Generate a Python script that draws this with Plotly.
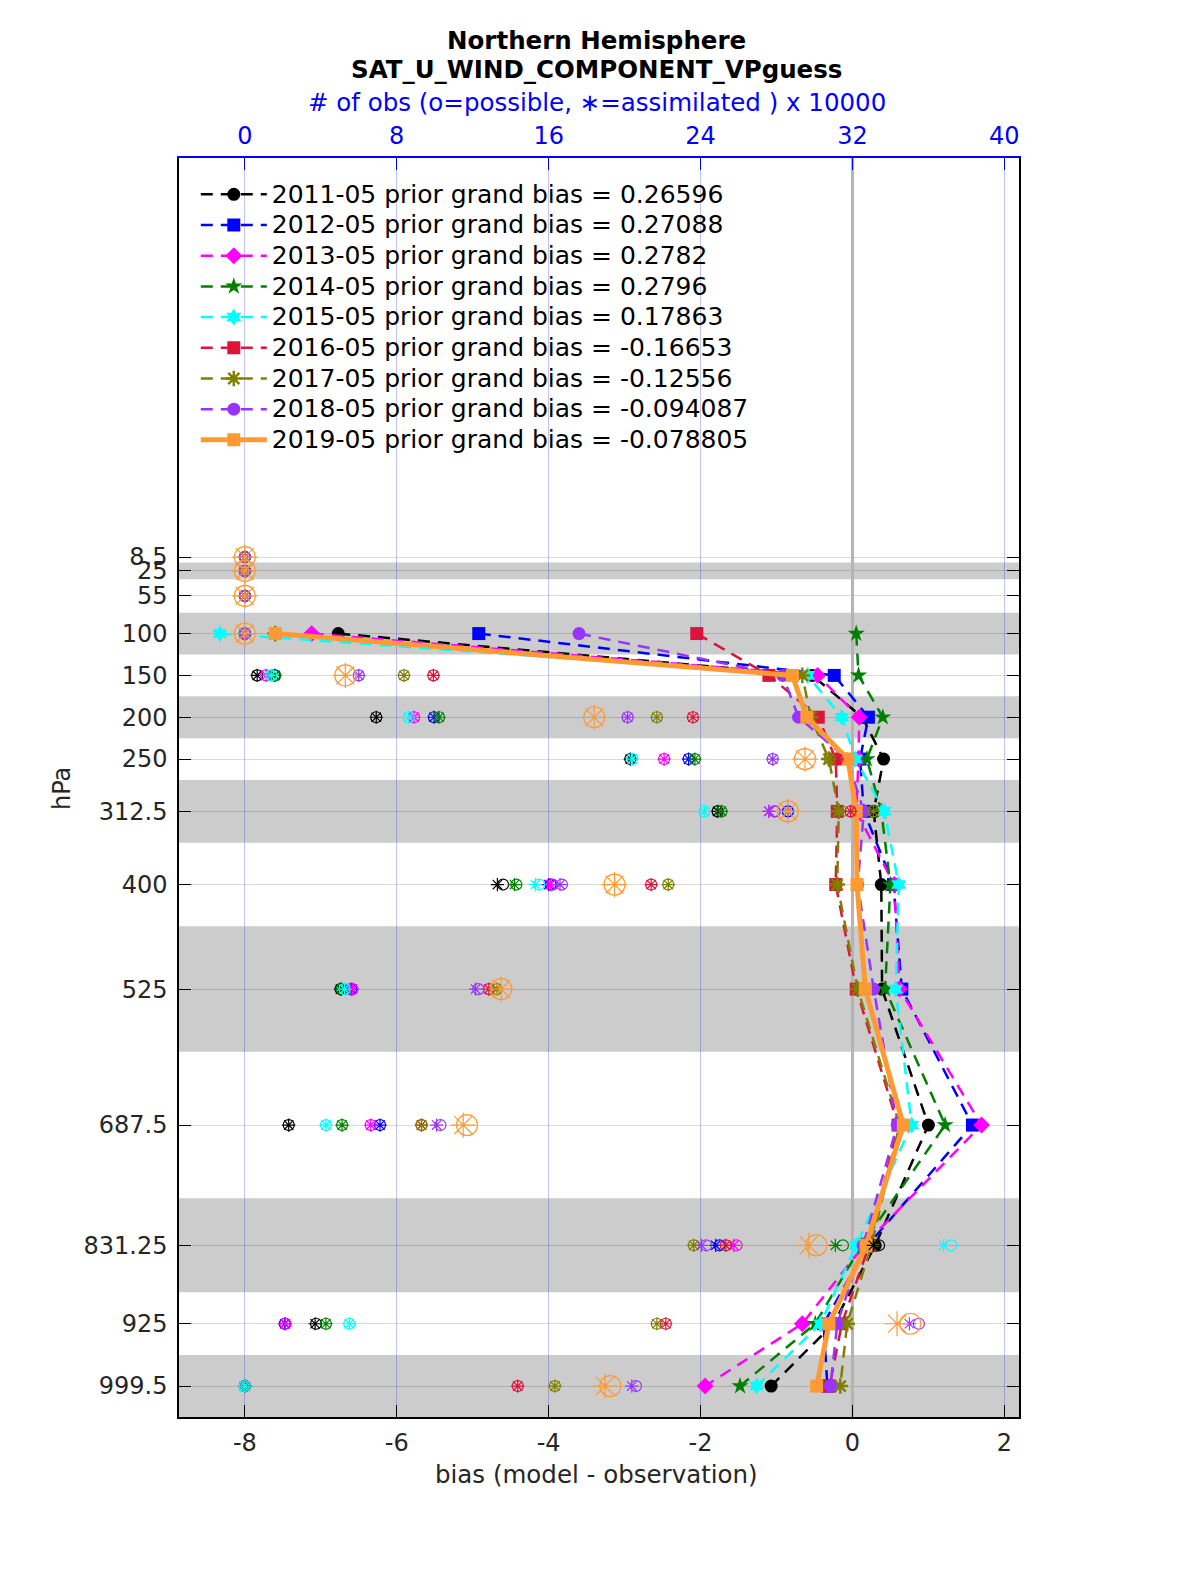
import plotly.graph_objects as go

# ---------------- data ----------------
levels = [8.5, 25, 55, 100, 150, 200, 250, 312.5, 400, 525, 687.5, 831.25, 925, 999.5]
level_labels = ["8.5", "25", "55", "100", "150", "200", "250", "312.5", "400",
                "525", "687.5", "831.25", "925", "999.5"]
layer_edges = [2, 15, 35, 75, 125, 175, 225, 275, 350, 450, 600, 775, 887.5, 962.5, 1036.5]

years = ["2011-05", "2012-05", "2013-05", "2014-05", "2015-05",
         "2016-05", "2017-05", "2018-05", "2019-05"]
grand_bias = ["0.26596", "0.27088", "0.2782", "0.2796", "0.17863",
              "-0.16653", "-0.12556", "-0.094087", "-0.078805"]

N = None
bias_2011 = [N, N, N, -6.77, -0.53, 0.13, 0.41, 0.28, 0.38, 0.39, 1.00, 0.30, -0.25, -1.07]
bias_2012 = [N, N, N, -4.92, -0.24, 0.21, 0.10, 0.15, 0.54, 0.65, 1.58, 0.20, -0.38, -0.33]
bias_2013 = [N, N, N, -7.12, -0.46, 0.09, 0.08, 0.05, 0.55, 0.62, 1.70, 0.15, -0.66, -1.94]
bias_2014 = [N, N, N, 0.05, 0.08, 0.40, 0.19, 0.38, 0.50, 0.43, 1.22, 0.12, -0.49, -1.48]
bias_2015 = [N, N, N, -8.33, -0.59, -0.14, 0.04, 0.42, 0.61, 0.57, 0.78, 0.05, -0.42, -1.26]
bias_2016 = [N, N, N, -2.05, -1.10, -0.45, -0.22, -0.20, -0.22, 0.05, 0.60, 0.22, -0.14, -0.30]
bias_2017 = [N, N, N, -7.60, -0.66, -0.55, -0.31, -0.18, -0.20, 0.07, 0.62, 0.25, -0.07, -0.16]
bias_2018 = [N, N, N, -3.60, -0.92, -0.71, -0.07, 0.15, 0.07, 0.28, 0.59, 0.14, -0.20, -0.29]
bias_2019 = [N, N, N, -7.60, -0.79, -0.60, -0.06, 0.05, 0.06, 0.17, 0.67, 0.18, -0.31, -0.47]

# number of observations (x 10000): possible / assimilated
poss_2011 = [0, 0, 0, 0, 0.65, 6.92, 20.3, 24.9, 13.6, 5.04, 2.31, 33.4, 3.75, 0]
assim_2011 = [0, 0, 0, 0, 0.65, 6.92, 20.3, 24.9, 13.3, 5.04, 2.31, 33.1, 3.70, 0]
poss_2012 = [0, 0, 0, 0, 1.56, 9.96, 23.37, 28.6, 16.1, 5.6, 7.12, 25.0, 2.10, 0]
assim_2012 = [0, 0, 0, 0, 1.56, 9.96, 23.37, 28.6, 16.0, 5.6, 7.12, 24.8, 2.10, 0]
poss_2013 = [0, 0, 0, 0, 1.12, 8.91, 22.08, 27.9, 16.2, 5.67, 6.63, 25.9, 2.14, 0]
assim_2013 = [0, 0, 0, 0, 1.12, 8.91, 22.08, 27.6, 16.1, 5.67, 6.63, 25.75, 2.14, 0]
poss_2014 = [0, 0, 0, 0, 1.60, 10.23, 23.7, 25.1, 14.3, 5.1, 5.12, 31.5, 4.27, 0]
assim_2014 = [0, 0, 0, 0, 1.60, 10.23, 23.7, 25.1, 14.2, 5.1, 5.12, 31.1, 4.27, 0]
poss_2015 = [0, 0, 0, 0, 1.39, 8.63, 20.4, 24.2, 15.5, 5.25, 4.27, 37.2, 5.5, 0]
assim_2015 = [0, 0, 0, 0, 1.39, 8.63, 20.4, 24.2, 15.3, 5.25, 4.27, 36.8, 5.5, 0]
poss_2016 = [0, 0, 0, 0, 9.93, 23.6, 31.2, 31.9, 21.4, 12.85, 9.3, 25.33, 22.17, 14.37]
assim_2016 = [0, 0, 0, 0, 9.93, 23.6, 31.2, 31.9, 21.4, 12.85, 9.3, 25.33, 22.17, 14.37]
poss_2017 = [0, 0, 0, 0, 8.38, 21.7, 30.8, 33.1, 22.3, 13.27, 9.31, 23.64, 21.7, 16.33]
assim_2017 = [0, 0, 0, 0, 8.38, 21.7, 30.8, 33.1, 22.3, 13.27, 9.31, 23.64, 21.7, 16.33]
poss_2018 = [0, 0, 0, 0, 6.0, 20.16, 27.8, 27.9, 16.7, 12.3, 10.3, 24.3, 35.5, 20.6]
assim_2018 = [0, 0, 0, 0, 6.0, 20.16, 27.8, 27.6, 16.6, 12.15, 10.1, 24.05, 35.0, 20.38]
poss_2019 = [0, 0, 0, 0, 5.29, 18.4, 29.5, 28.6, 19.47, 13.5, 11.7, 30.1, 35.05, 19.25]
assim_2019 = [0, 0, 0, 0, 5.29, 18.4, 29.5, 28.6, 19.47, 13.5, 11.5, 29.7, 34.35, 18.97]

bias_all = [bias_2011, bias_2012, bias_2013, bias_2014, bias_2015,
            bias_2016, bias_2017, bias_2018, bias_2019]
poss_all = [poss_2011, poss_2012, poss_2013, poss_2014, poss_2015,
            poss_2016, poss_2017, poss_2018, poss_2019]
assim_all = [assim_2011, assim_2012, assim_2013, assim_2014, assim_2015,
             assim_2016, assim_2017, assim_2018, assim_2019]

# ---------------- styles ----------------
colors = ["#000000", "#0000FF", "#FF00FF", "#008000", "#00FFFF",
          "#DC143C", "#808000", "#9933FF", "#FF9933"]
symbols = ["circle", "square", "diamond", "star", "hexagram",
           "square", "asterisk-open", "circle", "square"]

FONT = "DejaVu Sans"
TXT = "#262626"
fig = go.Figure()

for i in range(len(years)):
    last = (i == len(years) - 1)
    c = colors[i]
    sym = symbols[i]
    mk = dict(symbol=sym, size=13, color=c,
              line=dict(width=2.5 if sym.endswith("open") else 0, color=c))
    fig.add_trace(go.Scatter(
        x=bias_all[i], y=levels, mode="lines+markers",
        name=f"<span style='font-size:25px'>{years[i]} prior grand bias = {grand_bias[i]}</span>",
        line=dict(color=c, width=5 if last else 2.5, dash="solid" if last else "12px,8px"),
        marker=mk, connectgaps=False, xaxis="x", yaxis="y"))

for i in range(len(years)):
    last = (i == len(years) - 1)
    c = colors[i]
    s = 21 if last else 11
    fig.add_trace(go.Scatter(
        x=poss_all[i], y=levels, mode="markers", showlegend=False,
        marker=dict(symbol="circle-open", size=s, color=c, line=dict(width=1.2, color=c)),
        xaxis="x2", yaxis="y"))
    fig.add_trace(go.Scatter(
        x=assim_all[i], y=levels, mode="markers", showlegend=False,
        marker=dict(symbol="asterisk-open", size=s, color=c, line=dict(width=1.2, color=c)),
        xaxis="x2", yaxis="y"))

# alternating grey layers
for k in range(1, len(layer_edges) - 1, 2):
    fig.add_shape(type="rect", xref="paper", x0=0, x1=1, yref="y",
                  y0=layer_edges[k], y1=layer_edges[k + 1],
                  fillcolor="#cccccc", line=dict(width=0), layer="below")

# page positions: plot area spans x 179..1019, y 158..1417 (body adds 8 px)
PB, PH = 1417, 1259


def py(v):
    return (PB - v) / PH


fig.update_layout(
    width=1170, height=1540,
    margin=dict(l=171, r=159, t=150, b=131),
    paper_bgcolor="white", plot_bgcolor="white",
    font=dict(family=FONT, size=24, color="black"),
    showlegend=True,
    legend=dict(x=0.02, y=py(174), xanchor="left", yanchor="top",
                bgcolor="rgba(0,0,0,0)", borderwidth=0,
                font=dict(family=FONT, size=21.3, color="black"),
                itemwidth=66, tracegroupgap=0),
    xaxis=dict(range=[-8.867, 2.193], tickvals=[-8, -6, -4, -2, 0, 2],
               ticktext=["-8", "-6", "-4", "-2", "0", "2"],
               ticks="inside", ticklen=12, tickwidth=1.3, tickcolor="black",
               showline=True, linecolor="black", linewidth=1.5, mirror=False,
               showgrid=False, zeroline=True, zerolinecolor="#b4b4b4", zerolinewidth=3,
               ticklabelstandoff=3,
               tickfont=dict(family=FONT, size=24, color=TXT)),
    xaxis2=dict(overlaying="x", side="top", range=[-3.468, 40.772],
                tickvals=[0, 8, 16, 24, 32, 40],
                ticks="inside", ticklen=12, tickwidth=1.3, tickcolor="blue",
                showline=True, linecolor="blue", linewidth=1.5,
                showgrid=True, gridcolor="rgba(40,40,210,0.28)", gridwidth=1,
                zeroline=False, ticklabelstandoff=3,
                tickfont=dict(family=FONT, size=24, color="blue")),
    yaxis=dict(range=[1036.5, -468.5], tickvals=levels, ticktext=level_labels,
               ticks="inside", ticklen=12, tickwidth=1.3, tickcolor="black",
               showline=True, linecolor="black", linewidth=1.5, mirror="ticks",
               showgrid=True, gridcolor="rgba(0,0,0,0.15)", gridwidth=1,
               zeroline=False, ticklabelstandoff=5,
               tickfont=dict(family=FONT, size=24, color=TXT)),
)

ann = [
    dict(text="<b>Northern Hemisphere</b>", y=py(40), color="black"),
    dict(text="<b>SAT_U_WIND_COMPONENT_VPguess</b>", y=py(69), color="black"),
    dict(text="# of obs (o=possible, \u2217=assimilated ) x 10000", y=py(103), color="blue"),
    dict(text="bias (model - observation)", y=py(1474), color=TXT),
]
for a in ann:
    fig.add_annotation(text=a["text"], xref="paper", yref="paper", x=0.4976, y=a["y"],
                       xanchor="center", yanchor="middle", showarrow=False,
                       font=dict(family=FONT, size=24.5, color=a["color"]))
fig.add_annotation(text="hPa", xref="paper", yref="paper", x=(62 - 179) / 840, y=py(789),
                   xanchor="center", yanchor="middle", showarrow=False, textangle=-90,
                   font=dict(family=FONT, size=24, color=TXT))

fig.write_html("out.html")
